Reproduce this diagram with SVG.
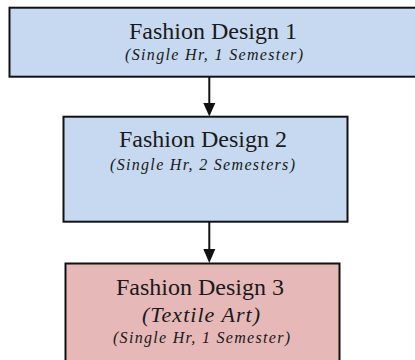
<svg xmlns="http://www.w3.org/2000/svg" width="415" height="360" viewBox="0 0 415 360">
<style>
.box{stroke:#111;stroke-width:2}
.blue{fill:#c6d9f0}
.pink{fill:#e6b8b7}
.t{font-family:"Liberation Serif","Times New Roman",serif;fill:#1a1a1a;text-anchor:middle}
.title{font-size:24px}
.sub{font-size:16px;font-style:italic}
.mid{font-size:22px;font-style:italic}
.conn{stroke:#111;stroke-width:2;fill:none}
.head{fill:#111}
</style>
<rect width="415" height="360" fill="#ffffff"/>
<g id="node1">
<rect class="box blue" x="9.5" y="7.7" width="410" height="69"/>
<text class="t title" x="213" y="39">Fashion Design 1</text>
<text class="t sub" x="214" y="60" textLength="178" lengthAdjust="spacing">(Single Hr, 1 Semester)</text>
</g>
<g id="node2">
<rect class="box blue" x="63.5" y="116.7" width="284" height="105"/>
<text class="t title" x="203" y="147">Fashion Design 2</text>
<text class="t sub" x="202.5" y="170" textLength="185" lengthAdjust="spacing">(Single Hr, 2 Semesters)</text>
</g>
<g id="node3">
<rect class="box pink" x="65.5" y="263.5" width="274" height="110"/>
<text class="t title" x="200" y="295">Fashion Design 3</text>
<text class="t mid" x="201" y="322" textLength="118" lengthAdjust="spacing">(Textile Art)</text>
<text class="t sub" x="201.5" y="343" textLength="177" lengthAdjust="spacing">(Single Hr, 1 Semester)</text>
</g>
<g id="connectors">
<path class="conn" d="M209.3,77 V104"/>
<path class="head" d="M203.3,103 L215.3,103 L209.3,116.5 Z"/>
<path class="conn" d="M209.3,222 V250"/>
<path class="head" d="M203.3,249 L215.3,249 L209.3,263 Z"/>
</g>
</svg>
